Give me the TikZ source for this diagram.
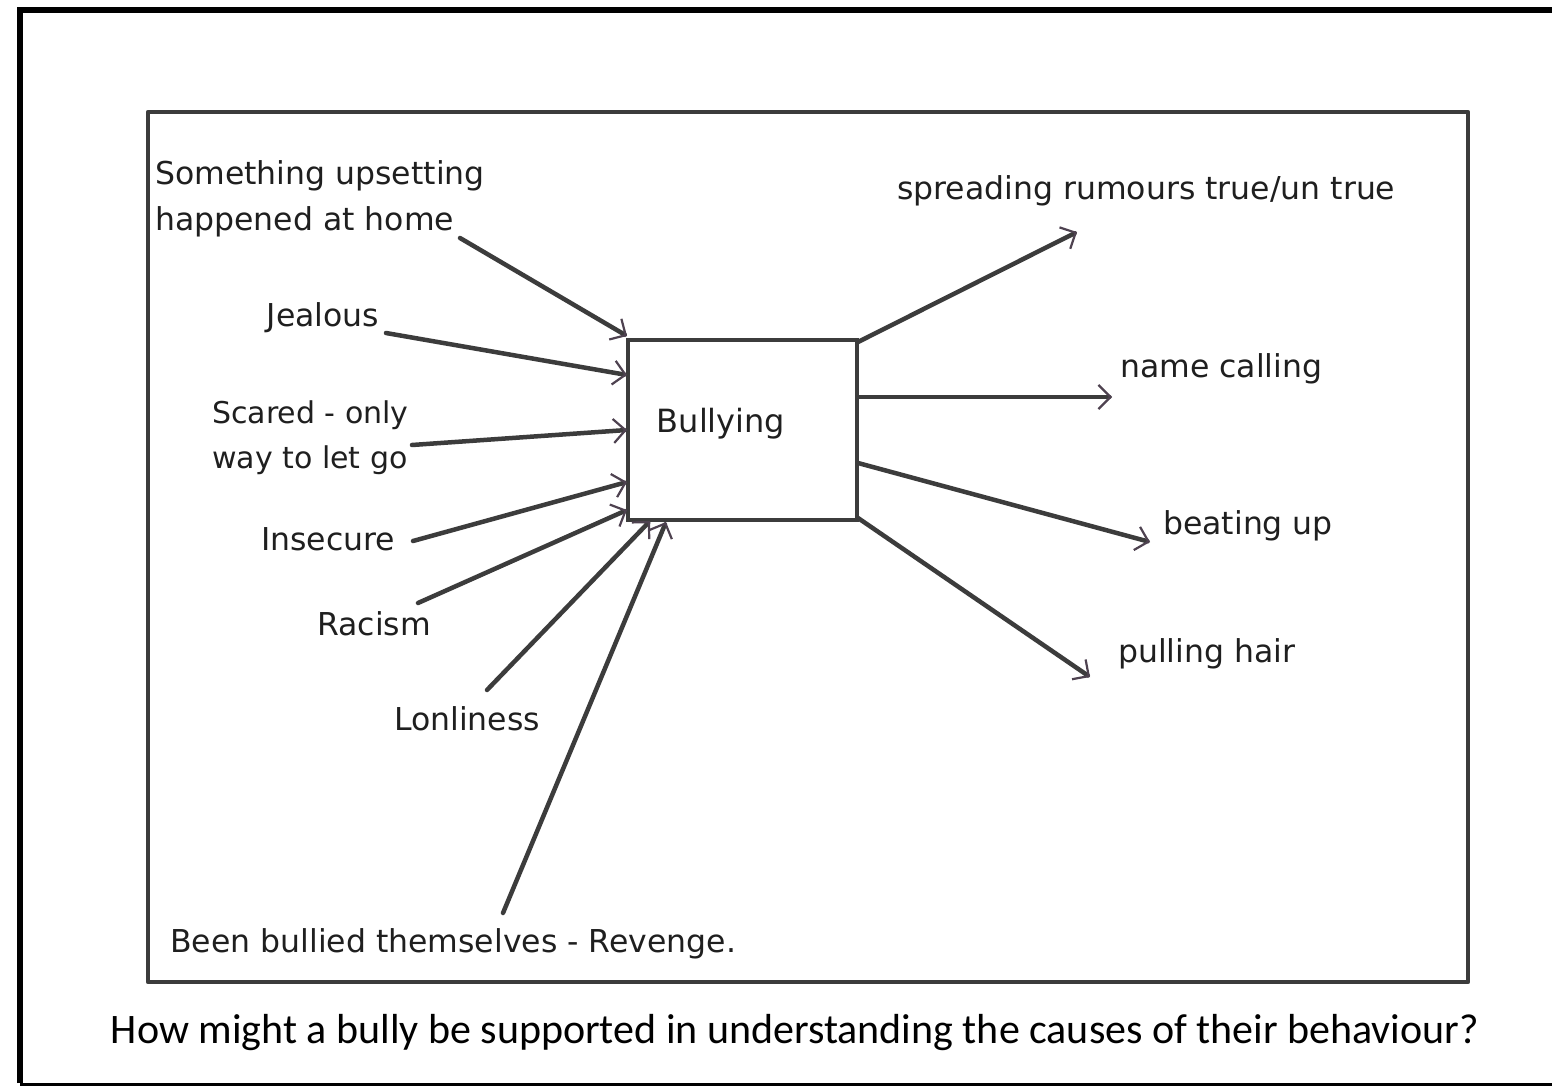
\documentclass[tikz,border=0pt]{standalone}
\usepackage{fontspec}
\setmainfont{Carlito}
\newfontfamily\handfont{DejaVu Sans}
\usetikzlibrary{arrows.meta}
\definecolor{pen}{HTML}{3C3C3C}
\definecolor{tipink}{HTML}{4E4250}
\begin{document}
\begin{tikzpicture}[x=1pt,y=-1pt,
  hand/.style={font=\handfont\fontsize{31.5}{46}\selectfont, text=black!88, inner sep=0pt},
  link/.style={line width=4.5pt, draw=pen, line cap=round,
    -{Straight Barb[length=12pt,width=24pt,line width=2.2pt,color=tipink]}}]
  % canvas
  \useasboundingbox (0,0) rectangle (1552,1086);
  \fill[white] (0,0) rectangle (1552,1086);
  % outer border
  \draw[line width=6pt, black] (20,1083) -- (20,10) -- (1560,10);
  \draw[line width=3pt, black] (20,1084) -- (1560,1084);
  % inner frame
  \draw[line width=4.5pt, pen, line join=round] (148,112) rectangle (1468,982);
  % central box
  \node[draw=pen, line width=4.5pt, minimum width=229pt, minimum height=180pt,
        inner sep=0pt] (bully) at (742.5,430) {};
  \node[hand, font=\handfont\fontsize{32}{36}\selectfont] (bulltxt) at (721,424) {Bullying};

  % causes
  \node[hand, anchor=north west, align=left] (home) at (155,160) {Something upsetting\\happened at home};
  \node[hand] (jealous) at (323,318) {Jealous};
  \node[hand, anchor=north west, align=left, font=\handfont\fontsize{30}{45}\selectfont] (scared) at (212,401) {Scared - only\\way to let go};
  \node[hand] (insecure) at (328,539) {Insecure};
  \node[hand] (racism) at (374,624) {Racism};
  \node[hand] (lonely) at (467,719) {Lonliness};
  \node[hand, anchor=west] (revenge) at (170,944) {Been bullied themselves - Revenge.};

  % effects
  \node[hand, anchor=west] (rumours) at (897,191) {spreading rumours true/un true};
  \node[hand, anchor=west] (names) at (1120,369) {name calling};
  \node[hand, anchor=west] (beating) at (1163,526) {beating up};
  \node[hand, anchor=west] (hair) at (1118,654) {pulling hair};

  % arrow ends
  \coordinate (c1) at (460,238);
  \coordinate (c2) at (386,333);
  \coordinate (c3) at (412,445);
  \coordinate (c4) at (413,541);
  \coordinate (c5) at (418,603);
  \coordinate (c6) at (487,690);
  \coordinate (c7) at (503,913);
  \coordinate (t1) at (627,336);
  \coordinate (t2) at (627,375);
  \coordinate (t3) at (627,430);
  \coordinate (t4) at (627,482);
  \coordinate (t5) at (627,510);
  \coordinate (t6) at (650,521);
  \coordinate (t7) at (666,522);
  \coordinate (s1) at (858,342);
  \coordinate (s2) at (858,397);
  \coordinate (s3) at (858,463);
  \coordinate (s4) at (858,518);
  \coordinate (e1) at (1077,232);
  \coordinate (e2) at (1112,397);
  \coordinate (e3) at (1150,542);
  \coordinate (e4) at (1090,677);

  \foreach \a/\b in {c1/t1,c2/t2,c3/t3,c4/t4,c5/t5,c6/t6,c7/t7,s1/e1,s2/e2,s3/e3,s4/e4}
    \draw[link] (\a) -- (\b);

  % question
  \node[font=\fontsize{42}{46}\selectfont, inner sep=0pt] (question) at (795,1033)
    {How might a bully be supported in understanding the causes of their behaviour?};
\end{tikzpicture}
\end{document}
